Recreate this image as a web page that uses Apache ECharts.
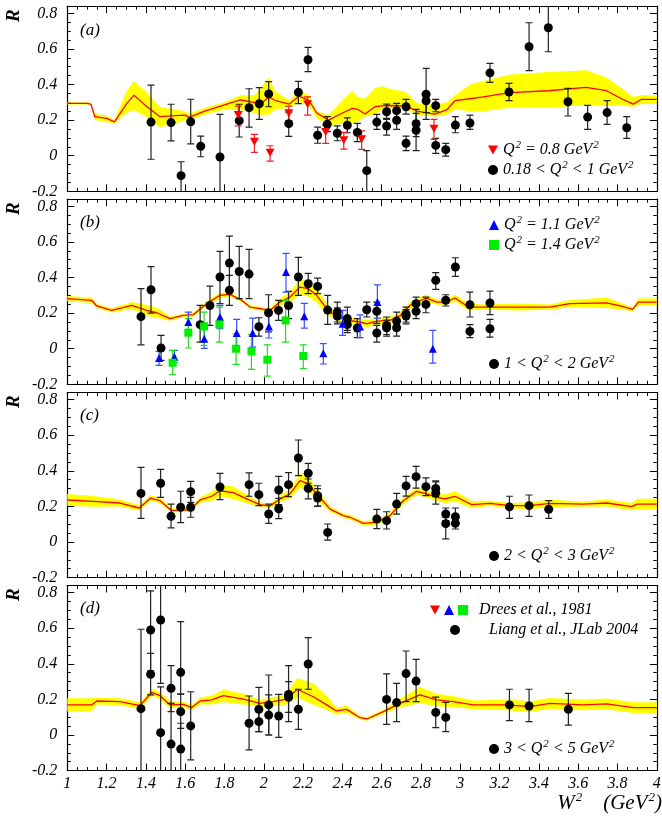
<!DOCTYPE html>
<html>
<head>
<meta charset="utf-8">
<script src="https://cdn.jsdelivr.net/npm/echarts@6/dist/echarts.min.js"></script>
<style>
  html, body { margin: 0; padding: 0; background: #fff; }
  #chart { width: 662px; height: 818px; }
</style>
</head>
<body>
<div id="chart"></div>
<script>
// ---- panel (a): 0.18 < Q2 < 1 ----
const aLineX = [1.00, 1.10, 1.12, 1.14, 1.20, 1.24, 1.30, 1.34, 1.40, 1.47, 1.55, 1.60, 1.62, 1.70, 1.80, 1.88, 1.95, 1.98, 2.025, 2.06, 2.13, 2.18, 2.23, 2.27, 2.33, 2.40, 2.45, 2.48, 2.515, 2.565, 2.60, 2.66, 2.72, 2.78, 2.87, 2.93, 2.973, 3.05, 3.117, 3.25, 3.45, 3.64, 3.745, 3.82, 3.88, 3.92, 4.00];
const aLineY = [0.294, 0.294, 0.29, 0.22, 0.21, 0.19, 0.29, 0.34, 0.28, 0.22, 0.225, 0.228, 0.215, 0.25, 0.285, 0.313, 0.30, 0.285, 0.33, 0.31, 0.29, 0.335, 0.31, 0.24, 0.20, 0.24, 0.266, 0.26, 0.234, 0.275, 0.28, 0.282, 0.28, 0.251, 0.234, 0.257, 0.309, 0.32, 0.331, 0.354, 0.365, 0.384, 0.365, 0.32, 0.29, 0.316, 0.316];
const aBandLo = [0.288, 0.288, 0.282, 0.20, 0.19, 0.18, 0.24, 0.255, 0.22, 0.16, 0.18, 0.20, 0.20, 0.23, 0.26, 0.26, 0.24, 0.23, 0.23, 0.26, 0.27, 0.30, 0.28, 0.21, 0.17, 0.18, 0.18, 0.19, 0.22, 0.23, 0.26, 0.27, 0.27, 0.23, 0.22, 0.23, 0.26, 0.25, 0.25, 0.27, 0.27, 0.285, 0.28, 0.28, 0.275, 0.29, 0.29];
const aBandHi = [0.30, 0.30, 0.298, 0.235, 0.225, 0.20, 0.36, 0.42, 0.36, 0.275, 0.26, 0.25, 0.235, 0.27, 0.30, 0.34, 0.34, 0.37, 0.44, 0.36, 0.31, 0.37, 0.34, 0.25, 0.23, 0.31, 0.365, 0.33, 0.32, 0.38, 0.39, 0.37, 0.36, 0.295, 0.285, 0.30, 0.34, 0.40, 0.42, 0.455, 0.47, 0.48, 0.44, 0.38, 0.33, 0.34, 0.34];

const aLiangX = [1.426, 1.528, 1.579, 1.628, 1.679, 1.777, 1.875, 1.925, 1.977, 2.025, 2.127, 2.176, 2.225, 2.274, 2.323, 2.374, 2.425, 2.476, 2.524, 2.575, 2.625, 2.625, 2.676, 2.676, 2.724, 2.724, 2.775, 2.775, 2.826, 2.826, 2.875, 2.875, 2.926, 2.975, 3.049, 3.151, 3.248, 3.35, 3.448, 3.548, 3.648, 3.747, 3.847];
const aLiangY = [0.189, 0.186, -0.112, 0.191, 0.053, -0.007, 0.197, 0.27, 0.292, 0.347, 0.18, 0.356, 0.539, 0.115, 0.176, 0.126, 0.171, 0.131, -0.084, 0.189, 0.247, 0.167, 0.253, 0.199, 0.275, 0.07, 0.18, 0.143, 0.345, 0.309, 0.281, 0.058, 0.034, 0.172, 0.184, 0.465, 0.358, 0.612, 0.719, 0.303, 0.217, 0.242, 0.157];
const aLiangLo = [-0.02, 0.083, -0.21, 0.066, -0.006, -0.25, 0.105, 0.16, 0.204, 0.275, 0.109, 0.292, 0.472, 0.07, 0.135, 0.084, 0.129, 0.079, -0.21, 0.148, 0.204, 0.116, 0.21, 0.148, 0.234, 0.028, 0.107, 0.028, 0.204, 0.242, 0.247, 0.013, -0.002, 0.129, 0.148, 0.412, 0.309, 0.478, 0.584, 0.223, 0.148, 0.176, 0.097];
const aLiangHi = [0.397, 0.289, -0.034, 0.317, 0.11, 0.232, 0.289, 0.376, 0.382, 0.416, 0.244, 0.418, 0.609, 0.16, 0.219, 0.167, 0.213, 0.182, 0.028, 0.232, 0.29, 0.21, 0.294, 0.247, 0.316, 0.11, 0.26, 0.238, 0.491, 0.35, 0.316, 0.097, 0.069, 0.219, 0.228, 0.519, 0.406, 0.747, 0.9, 0.378, 0.283, 0.309, 0.219];

const aDreesX = [1.870, 1.952, 2.032, 2.127, 2.223, 2.315, 2.407, 2.498, 2.866];
const aDreesY = [0.229, 0.079, 0.017, 0.238, 0.289, 0.133, 0.087, 0.092, 0.152];
const aDreesLo = [0.167, 0.019, -0.03, 0.197, 0.228, 0.069, 0.037, 0.036, 0.092];
const aDreesHi = [0.279, 0.12, 0.056, 0.279, 0.331, 0.172, 0.131, 0.139, 0.204];

// ---- panel (b): 1 < Q2 < 2 ----
const bLineX = [1.00, 1.124, 1.15, 1.226, 1.328, 1.404, 1.455, 1.523, 1.59, 1.641, 1.709, 1.777, 1.828, 1.887, 1.93, 1.981, 2.031, 2.082, 2.133, 2.184, 2.226, 2.269, 2.32, 2.37, 2.439, 2.49, 2.524, 2.575, 2.642, 2.693, 2.744, 2.825, 2.88, 2.93, 2.973, 3.041, 3.117, 3.287, 3.456, 3.558, 3.745, 3.813, 3.877, 3.906, 4.0];
const bLineY = [0.281, 0.272, 0.24, 0.215, 0.243, 0.215, 0.202, 0.169, 0.187, 0.191, 0.253, 0.30, 0.305, 0.272, 0.234, 0.225, 0.215, 0.262, 0.29, 0.346, 0.337, 0.30, 0.225, 0.178, 0.157, 0.15, 0.14, 0.155, 0.159, 0.184, 0.243, 0.285, 0.262, 0.262, 0.285, 0.234, 0.234, 0.234, 0.234, 0.253, 0.258, 0.24, 0.221, 0.262, 0.262];
const bBandLo = [0.266, 0.257, 0.228, 0.203, 0.223, 0.185, 0.172, 0.157, 0.177, 0.179, 0.238, 0.285, 0.293, 0.262, 0.224, 0.215, 0.205, 0.242, 0.26, 0.306, 0.292, 0.26, 0.195, 0.158, 0.137, 0.13, 0.12, 0.135, 0.139, 0.164, 0.223, 0.265, 0.247, 0.247, 0.265, 0.214, 0.219, 0.214, 0.219, 0.233, 0.228, 0.22, 0.211, 0.242, 0.242];
const bBandHi = [0.296, 0.287, 0.252, 0.227, 0.263, 0.245, 0.232, 0.181, 0.197, 0.203, 0.268, 0.315, 0.317, 0.282, 0.244, 0.235, 0.225, 0.282, 0.32, 0.386, 0.382, 0.34, 0.255, 0.198, 0.177, 0.17, 0.16, 0.175, 0.179, 0.204, 0.263, 0.305, 0.277, 0.277, 0.305, 0.254, 0.249, 0.254, 0.249, 0.273, 0.288, 0.26, 0.231, 0.282, 0.282];

const bLiangX = [1.375, 1.426, 1.477, 1.676, 1.726, 1.777, 1.825, 1.825, 1.875, 1.925, 1.975, 2.024, 2.075, 2.126, 2.176, 2.226, 2.274, 2.325, 2.374, 2.374, 2.425, 2.425, 2.476, 2.524, 2.575, 2.575, 2.625, 2.625, 2.676, 2.676, 2.724, 2.724, 2.775, 2.775, 2.825, 2.875, 2.926, 2.975, 3.049, 3.049, 3.151, 3.151];
const bLiangY = [0.18, 0.331, 0.004, 0.135, 0.243, 0.403, 0.481, 0.328, 0.434, 0.419, 0.124, 0.202, 0.215, 0.243, 0.403, 0.365, 0.35, 0.217, 0.206, 0.184, 0.169, 0.135, 0.116, 0.219, 0.21, 0.088, 0.131, 0.118, 0.155, 0.118, 0.195, 0.184, 0.253, 0.21, 0.249, 0.384, 0.272, 0.459, 0.247, 0.097, 0.257, 0.112];
const bLiangLo = [0.022, 0.2, -0.066, 0.037, 0.131, 0.253, 0.328, 0.243, 0.281, 0.281, 0.071, 0.094, 0.159, 0.169, 0.30, 0.309, 0.309, 0.137, 0.15, 0.14, 0.103, 0.09, 0.062, 0.178, 0.142, 0.037, 0.079, 0.07, 0.112, 0.071, 0.15, 0.14, 0.215, 0.169, 0.202, 0.333, 0.24, 0.406, 0.178, 0.062, 0.191, 0.065];
const bLiangHi = [0.337, 0.461, 0.075, 0.243, 0.352, 0.547, 0.633, 0.412, 0.575, 0.558, 0.174, 0.303, 0.272, 0.322, 0.513, 0.423, 0.397, 0.30, 0.262, 0.23, 0.234, 0.18, 0.169, 0.262, 0.262, 0.131, 0.178, 0.16, 0.206, 0.159, 0.234, 0.22, 0.29, 0.243, 0.29, 0.427, 0.303, 0.511, 0.318, 0.135, 0.324, 0.165];

const b11X = [1.467, 1.545, 1.616, 1.697, 1.777, 1.862, 1.943, 2.026, 2.113, 2.206, 2.303, 2.401, 2.49, 2.578, 2.86];
const b11Y = [-0.052, -0.045, 0.15, 0.056, 0.178, 0.088, 0.088, 0.125, 0.431, 0.182, -0.026, 0.14, 0.125, 0.262, 0.0];
const b11Lo = [-0.094, -0.079, 0.084, 0.002, 0.112, 0.015, 0.009, 0.06, 0.318, 0.116, -0.086, 0.075, 0.062, 0.172, -0.081];
const b11Hi = [-0.015, -0.009, 0.206, 0.122, 0.243, 0.165, 0.172, 0.206, 0.536, 0.255, 0.028, 0.215, 0.19, 0.359, 0.103];

const b14X = [1.536, 1.616, 1.696, 1.774, 1.859, 1.937, 2.018, 2.111, 2.201];
const b14Y = [-0.079, 0.09, 0.125, 0.137, 0.0, -0.015, -0.062, 0.159, -0.041];
const b14Lo = [-0.146, 0.004, 0.019, 0.037, -0.088, -0.116, -0.154, 0.037, -0.112];
const b14Hi = [-0.009, 0.169, 0.206, 0.234, 0.084, 0.079, 0.022, 0.272, 0.022];

// ---- panel (c): 2 < Q2 < 3 ----
const cLineX = [1.00, 1.133, 1.268, 1.367, 1.424, 1.472, 1.531, 1.582, 1.624, 1.676, 1.735, 1.777, 1.845, 1.913, 1.981, 2.031, 2.082, 2.133, 2.184, 2.226, 2.277, 2.337, 2.405, 2.439, 2.507, 2.575, 2.642, 2.71, 2.778, 2.829, 2.88, 2.922, 2.973, 3.058, 3.151, 3.253, 3.355, 3.456, 3.626, 3.745, 3.872, 3.9, 4.0];
const cLineY = [0.236, 0.228, 0.219, 0.191, 0.247, 0.232, 0.176, 0.18, 0.18, 0.236, 0.257, 0.288, 0.277, 0.242, 0.21, 0.202, 0.242, 0.27, 0.345, 0.326, 0.26, 0.185, 0.148, 0.139, 0.105, 0.11, 0.148, 0.232, 0.285, 0.27, 0.251, 0.242, 0.257, 0.21, 0.217, 0.204, 0.204, 0.217, 0.213, 0.219, 0.199, 0.213, 0.213];
const cBandLo = [0.203, 0.198, 0.199, 0.176, 0.232, 0.217, 0.164, 0.168, 0.168, 0.221, 0.232, 0.253, 0.242, 0.217, 0.198, 0.19, 0.222, 0.245, 0.305, 0.286, 0.23, 0.17, 0.136, 0.127, 0.093, 0.095, 0.133, 0.212, 0.265, 0.25, 0.231, 0.217, 0.227, 0.19, 0.202, 0.189, 0.184, 0.197, 0.198, 0.199, 0.179, 0.183, 0.183];
const cBandHi = [0.269, 0.258, 0.239, 0.206, 0.262, 0.247, 0.188, 0.192, 0.192, 0.251, 0.282, 0.323, 0.312, 0.267, 0.222, 0.214, 0.262, 0.295, 0.385, 0.366, 0.29, 0.2, 0.16, 0.151, 0.117, 0.125, 0.163, 0.252, 0.305, 0.29, 0.271, 0.267, 0.287, 0.23, 0.232, 0.219, 0.224, 0.237, 0.228, 0.239, 0.219, 0.243, 0.243];

const cLiangX = [1.375, 1.475, 1.528, 1.577, 1.628, 1.628, 1.777, 1.925, 1.975, 2.025, 2.076, 2.076, 2.126, 2.176, 2.226, 2.226, 2.274, 2.274, 2.325, 2.575, 2.625, 2.676, 2.724, 2.775, 2.825, 2.875, 2.875, 2.926, 2.926, 2.975, 2.975, 3.25, 3.35, 3.45];
const cLiangY = [0.273, 0.33, 0.144, 0.195, 0.283, 0.195, 0.309, 0.322, 0.266, 0.157, 0.292, 0.187, 0.322, 0.472, 0.386, 0.301, 0.26, 0.247, 0.054, 0.129, 0.12, 0.213, 0.315, 0.367, 0.311, 0.301, 0.275, 0.157, 0.103, 0.142, 0.105, 0.197, 0.204, 0.184];
const cLiangLo = [0.133, 0.251, 0.079, 0.109, 0.223, 0.139, 0.238, 0.257, 0.204, 0.105, 0.21, 0.131, 0.255, 0.373, 0.33, 0.242, 0.202, 0.2, 0.011, 0.075, 0.073, 0.157, 0.258, 0.303, 0.26, 0.255, 0.213, 0.12, 0.017, 0.1, 0.073, 0.133, 0.144, 0.133];
const cLiangHi = [0.419, 0.408, 0.213, 0.285, 0.341, 0.251, 0.386, 0.388, 0.33, 0.213, 0.369, 0.245, 0.39, 0.573, 0.442, 0.354, 0.316, 0.3, 0.101, 0.183, 0.17, 0.273, 0.369, 0.425, 0.36, 0.343, 0.338, 0.191, 0.139, 0.191, 0.139, 0.257, 0.264, 0.232];

// ---- panel (d): 3 < Q2 < 5 ----
const dLineX = [1.00, 1.124, 1.15, 1.268, 1.37, 1.43, 1.472, 1.523, 1.59, 1.633, 1.676, 1.735, 1.794, 1.896, 1.981, 2.048, 2.116, 2.17, 2.252, 2.32, 2.37, 2.422, 2.49, 2.524, 2.609, 2.693, 2.795, 2.88, 2.965, 3.066, 3.236, 3.355, 3.456, 3.626, 3.745, 3.88, 4.0];
const dLineY = [0.169, 0.169, 0.191, 0.187, 0.165, 0.24, 0.221, 0.169, 0.172, 0.154, 0.191, 0.197, 0.221, 0.202, 0.178, 0.187, 0.202, 0.257, 0.215, 0.169, 0.135, 0.144, 0.097, 0.09, 0.131, 0.178, 0.225, 0.197, 0.187, 0.169, 0.169, 0.159, 0.178, 0.169, 0.175, 0.154, 0.154];
const dBandLo = [0.132, 0.132, 0.171, 0.167, 0.145, 0.22, 0.201, 0.149, 0.157, 0.139, 0.171, 0.172, 0.186, 0.172, 0.158, 0.162, 0.172, 0.21, 0.17, 0.14, 0.115, 0.124, 0.087, 0.08, 0.119, 0.153, 0.18, 0.162, 0.157, 0.144, 0.139, 0.129, 0.148, 0.139, 0.145, 0.124, 0.124];
const dBandHi = [0.206, 0.206, 0.211, 0.207, 0.185, 0.26, 0.241, 0.189, 0.187, 0.169, 0.211, 0.222, 0.256, 0.232, 0.198, 0.212, 0.232, 0.32, 0.29, 0.22, 0.155, 0.164, 0.107, 0.1, 0.143, 0.203, 0.27, 0.232, 0.217, 0.194, 0.199, 0.189, 0.208, 0.199, 0.205, 0.184, 0.184];

const dLiangX = [1.375, 1.424, 1.424, 1.475, 1.475, 1.528, 1.528, 1.577, 1.577, 1.577, 1.628, 1.925, 1.975, 1.975, 2.025, 2.025, 2.076, 2.126, 2.126, 2.176, 2.226, 2.625, 2.676, 2.724, 2.775, 2.875, 2.926, 3.25, 3.35, 3.55];
const dLiangY = [0.148, 0.59, 0.341, 0.646, 0.013, 0.262, -0.051, 0.352, 0.131, -0.079, 0.051, 0.066, 0.144, 0.075, 0.169, 0.112, 0.107, 0.228, 0.212, 0.144, 0.399, 0.2, 0.182, 0.345, 0.303, 0.127, 0.099, 0.169, 0.163, 0.144];
const dLiangLo = [-0.3, 0.36, 0.225, 0.29, -0.3, 0.131, -0.3, 0.23, 0.037, -0.3, -0.14, -0.084, 0.019, 0.019, 0.0, 0.0, -0.013, 0.075, 0.127, 0.032, 0.257, 0.06, 0.075, 0.187, 0.187, 0.041, 0.019, 0.081, 0.075, 0.056];
const dLiangHi = [0.594, 0.81, 0.459, 1.0, 0.27, 0.39, 0.178, 0.637, 0.23, 0.066, 0.243, 0.219, 0.268, 0.131, 0.337, 0.225, 0.228, 0.39, 0.30, 0.257, 0.547, 0.343, 0.29, 0.472, 0.425, 0.213, 0.183, 0.257, 0.257, 0.234];

const xTicks = { min: 1, max: 4, step: 0.2 };
const yTicks = { min: -0.2, max: 0.84, step: 0.2 };

const legendText = {
  aDrees: '{t|Q}{s|2}{t| = 0.8 GeV}{s|2}',
  aLiang: '{t|0.18 < Q}{s|2}{t| < 1 GeV}{s|2}',
  bDrees11: '{t|Q}{s|2}{t| = 1.1 GeV}{s|2}',
  bDrees14: '{t|Q}{s|2}{t| = 1.4 GeV}{s|2}',
  bLiang: '{t|1 < Q}{s|2}{t| < 2 GeV}{s|2}',
  cLiang: '{t|2 < Q}{s|2}{t| < 3 GeV}{s|2}',
  dLiang: '{t|3 < Q}{s|2}{t| < 5 GeV}{s|2}',
  keyRed: '',
  keyBlue: '',
  keyGreen: '{g|}{t|Drees et al., 1981}',
  keyBlack: '{h|}{t|Liang et al., JLab 2004}'
};

const FONT = '"Liberation Serif", "DejaVu Serif", serif';
const DOWN_TRI = 'path://M0,0L10,0L5,9Z';
const zeroY = [155.7, 348.7, 542, 735]; // pixel row of R = 0 in each panel
const PX = 178;                          // pixels per unit of R

const chart = echarts.init(document.getElementById('chart'), null, { renderer: 'canvas' });

const zip = (...arrs) => arrs[0].map((_, i) => arrs.map(a => a[i]));
const richStyles = {
  t: { fontFamily: FONT, fontStyle: 'italic', fontSize: 16, color: '#000', lineHeight: 20 },
  s: { fontFamily: FONT, fontStyle: 'italic', fontSize: 11, color: '#000', lineHeight: 20, padding: [0, 0, 9, 1] },
  g: { width: 6 },
  h: { width: 24 }
};

const grids = zeroY.map(z => ({
  left: 67.3, right: 5.2, top: z - yTicks.max * PX, height: (yTicks.max - yTicks.min) * PX,
  outerBoundsMode: 'none'
}));

const frameLine = { onZero: false, lineStyle: { color: '#000', width: 1.2 } };
const xAxes = [];
const yAxes = [];
grids.forEach((g, i) => {
  ['bottom', 'top'].forEach(pos => xAxes.push({
    type: 'value', gridIndex: i, position: pos,
    min: xTicks.min, max: xTicks.max, interval: xTicks.step,
    axisLine: frameLine,
    axisTick: { inside: true, length: 7, lineStyle: { color: '#000', width: 1 } },
    minorTick: { show: true, splitNumber: 4, length: 3.5, lineStyle: { color: '#000', width: 1 } },
    splitLine: { show: false },
    axisLabel: {
      show: i === 3 && pos === 'bottom', margin: 5,
      fontFamily: FONT, fontStyle: 'italic', fontSize: 16, color: '#000'
    }
  }));
  ['left', 'right'].forEach(pos => {
    yAxes.push({
      type: 'value', gridIndex: i, position: pos,
      min: yTicks.min, max: yTicks.max, interval: yTicks.step,
      axisLine: frameLine,
      axisTick: { inside: true, length: 7, lineStyle: { color: '#000', width: 1 } },
      splitLine: { show: false },
      axisLabel: {
        show: pos === 'left', margin: 10, showMaxLabel: false,
        fontFamily: FONT, fontStyle: 'italic', fontSize: 16, color: '#000',
        formatter: v => (Math.abs(v * 5 - Math.round(v * 5)) < 1e-6 ? String(+v.toFixed(1)) : '')
      }
    });
    yAxes.push({
      type: 'value', gridIndex: i, position: pos,
      min: yTicks.min, max: yTicks.max, interval: yTicks.step / 4,
      axisLine: { show: false },
      axisTick: { inside: true, length: 3.5, lineStyle: { color: '#000', width: 1 } },
      splitLine: { show: false },
      axisLabel: { show: false }
    });
  });
});

function bandSeries(g, xs, lo, hi) {
  return {
    type: 'custom', xAxisIndex: 2 * g, yAxisIndex: 4 * g, silent: true, z: 1,
    data: zip(xs, lo, hi),
    renderItem(params, api) {
      if (params.dataIndex !== 0) return null;
      const up = xs.map((x, k) => api.coord([x, hi[k]]));
      const dn = xs.map((x, k) => api.coord([x, lo[k]])).reverse();
      return { type: 'polygon', shape: { points: up.concat(dn) }, style: { fill: '#ffff00' } };
    }
  };
}

function lineSeries(g, xs, ys) {
  return {
    type: 'line', xAxisIndex: 2 * g, yAxisIndex: 4 * g, silent: true, z: 2,
    data: zip(xs, ys), showSymbol: false, animation: false,
    lineStyle: { color: '#ff0000', width: 1.3 }
  };
}

function errSeries(g, xs, lo, hi, color) {
  return {
    type: 'custom', xAxisIndex: 2 * g, yAxisIndex: 4 * g, silent: true, clip: true, z: 3,
    data: zip(xs, lo, hi),
    renderItem(params, api) {
      const a = api.coord([api.value(0), api.value(1)]);
      const b = api.coord([api.value(0), api.value(2)]);
      const w = 3.5;
      const st = { stroke: color, lineWidth: 1.2 };
      return {
        type: 'group', children: [
          { type: 'line', shape: { x1: a[0], y1: a[1], x2: b[0], y2: b[1] }, style: st },
          { type: 'line', shape: { x1: a[0] - w, y1: a[1], x2: a[0] + w, y2: a[1] }, style: st },
          { type: 'line', shape: { x1: b[0] - w, y1: b[1], x2: b[0] + w, y2: b[1] }, style: st }
        ]
      };
    }
  };
}

function pointSeries(g, name, xs, ys, symbol, size, color) {
  return {
    type: 'scatter', name, xAxisIndex: 2 * g, yAxisIndex: 4 * g, z: 4,
    data: zip(xs, ys), symbol, symbolSize: size,
    itemStyle: { color, opacity: 1 }, clip: true
  };
}

const series = [
  bandSeries(0, aLineX, aBandLo, aBandHi),
  lineSeries(0, aLineX, aLineY),
  errSeries(0, aLiangX, aLiangLo, aLiangHi, '#222'),
  errSeries(0, aDreesX, aDreesLo, aDreesHi, '#ee2020'),
  pointSeries(0, 'aLiang', aLiangX, aLiangY, 'circle', 9, '#000'),
  pointSeries(0, 'aDrees', aDreesX, aDreesY, DOWN_TRI, [9, 8], '#ff0000'),

  bandSeries(1, bLineX, bBandLo, bBandHi),
  lineSeries(1, bLineX, bLineY),
  errSeries(1, bLiangX, bLiangLo, bLiangHi, '#222'),
  errSeries(1, b11X, b11Lo, b11Hi, '#3a4dff'),
  errSeries(1, b14X, b14Lo, b14Hi, '#22dd22'),
  pointSeries(1, 'bLiang', bLiangX, bLiangY, 'circle', 9, '#000'),
  pointSeries(1, 'bDrees11', b11X, b11Y, 'triangle', 8, '#0000ff'),
  pointSeries(1, 'bDrees14', b14X, b14Y, 'rect', 8, '#00ee00'),

  bandSeries(2, cLineX, cBandLo, cBandHi),
  lineSeries(2, cLineX, cLineY),
  errSeries(2, cLiangX, cLiangLo, cLiangHi, '#222'),
  pointSeries(2, 'cLiang', cLiangX, cLiangY, 'circle', 9, '#000'),

  bandSeries(3, dLineX, dBandLo, dBandHi),
  lineSeries(3, dLineX, dLineY),
  errSeries(3, dLiangX, dLiangLo, dLiangHi, '#222'),
  pointSeries(3, 'dLiang', dLiangX, dLiangY, 'circle', 9, '#000'),

  // legend keys only
  pointSeries(3, 'keyRed', [], [], DOWN_TRI, 9, '#ff0000'),
  pointSeries(3, 'keyBlue', [], [], 'triangle', 9, '#0000ff'),
  pointSeries(3, 'keyGreen', [], [], 'rect', 9, '#00ee00'),
  pointSeries(3, 'keyBlack', [], [], 'circle', 9, '#000')
];

function legend(names, left, top, orient, gap) {
  return {
    data: names.map(n => (n === 'aDrees' || n === 'keyRed') ? { name: n, icon: DOWN_TRI } : n),
    left, top, orient: orient || 'vertical', padding: 0,
    itemWidth: 10, itemHeight: 10, itemGap: gap || 0, selectedMode: false,
    formatter: n => legendText[n],
    textStyle: { fontFamily: FONT, fontStyle: 'italic', fontSize: 16, color: '#000', rich: richStyles }
  };
}

const panelLabel = (txt, y) => ({
  type: 'text', left: 80, top: y - 10,
  style: { text: txt, font: 'italic 17px ' + FONT, fill: '#000' }
});
const rLabel = y => ({
  type: 'text', x: 14, y: y + 6, rotation: Math.PI / 2,
  style: { text: 'R', font: 'italic bold 19px ' + FONT, fill: '#000', textVerticalAlign: 'middle' }
});

chart.setOption({
  animation: false,
  backgroundColor: '#fff',
  grid: grids,
  xAxis: xAxes,
  yAxis: yAxes,
  legend: [
    legend(['aDrees', 'aLiang'], 488, 140),
    legend(['bDrees11', 'bDrees14'], 489, 215),
    legend(['bLiang'], 489, 354),
    legend(['cLiang'], 489, 546),
    legend(['keyRed', 'keyBlue', 'keyGreen'], 430, 602, 'horizontal', 4),
    legend(['keyBlack'], 450, 622),
    legend(['dLiang'], 489, 739)
  ],
  graphic: [
    panelLabel('(a)', 32), panelLabel('(b)', 224), panelLabel('(c)', 417), panelLabel('(d)', 610),
    rLabel(16), rLabel(209), rLabel(402), rLabel(595),
    {
      type: 'text', right: 0, top: 791,
      style: {
        text: '{w|W}{e|2}{w|    (GeV}{e|2}{w|)}',
        rich: {
          w: { fontFamily: FONT, fontStyle: 'italic', fontSize: 21, fill: '#000', lineHeight: 26 },
          e: { fontFamily: FONT, fontStyle: 'italic', fontSize: 13, fill: '#000', lineHeight: 26, padding: [0, 0, 12, 1] }
        }
      }
    }
  ],
  series
});
</script>
</body>
</html>
